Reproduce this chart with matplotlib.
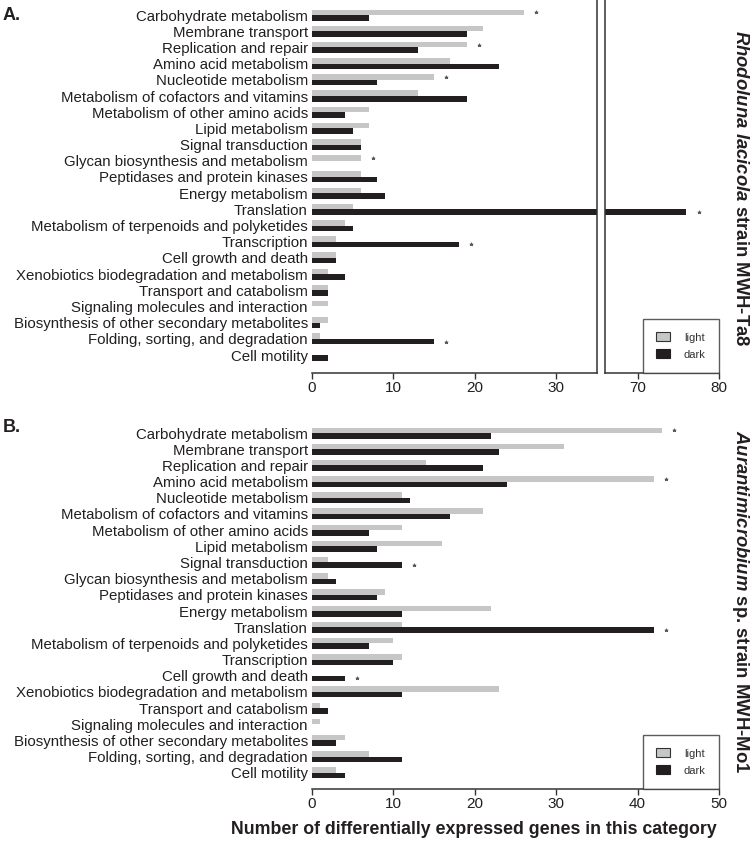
import matplotlib
matplotlib.use("Agg")
import matplotlib.pyplot as plt
from matplotlib.patches import Patch
import numpy as np

plt.rcParams['font.family'] = ['Liberation Sans', 'DejaVu Sans']
plt.rcParams['mathtext.fontset'] = 'custom'
plt.rcParams['mathtext.it'] = 'Liberation Sans:italic:bold'
plt.rcParams['mathtext.rm'] = 'Liberation Sans:bold'
plt.rcParams['mathtext.bf'] = 'Liberation Sans:bold'

categories = [
    "Carbohydrate metabolism", "Membrane transport", "Replication and repair",
    "Amino acid metabolism", "Nucleotide metabolism",
    "Metabolism of cofactors and vitamins", "Metabolism of other amino acids",
    "Lipid metabolism", "Signal transduction", "Glycan biosynthesis and metabolism",
    "Peptidases and protein kinases", "Energy metabolism", "Translation",
    "Metabolism of terpenoids and polyketides", "Transcription",
    "Cell growth and death", "Xenobiotics biodegradation and metabolism",
    "Transport and catabolism", "Signaling molecules and interaction",
    "Biosynthesis of other secondary metabolites",
    "Folding, sorting, and degradation", "Cell motility",
]

a_light = [26, 21, 19, 17, 15, 13, 7, 7, 6, 6, 6, 6, 5, 4, 3, 3, 2, 2, 2, 2, 1, 0]
a_dark = [7, 19, 13, 23, 8, 19, 4, 5, 6, 0, 8, 9, 76, 5, 18, 3, 4, 2, 0, 1, 15, 2]
a_star_light = [0, 2, 4, 9]
a_star_dark = [12, 14, 20]

b_light = [43, 31, 14, 42, 11, 21, 11, 16, 2, 2, 9, 22, 11, 10, 11, 0, 23, 1, 1, 4, 7, 3]
b_dark = [22, 23, 21, 24, 12, 17, 7, 8, 11, 3, 8, 11, 42, 7, 10, 4, 11, 2, 0, 3, 11, 4]
b_star_light = [0, 3]
b_star_dark = [8, 12, 15]

a_ticks_left = [0, 10, 20, 30]
a_ticks_right = [70, 80]
b_ticks = [0, 10, 20, 30, 40, 50]

title_a = r"$\mathit{Rhodoluna\ lacicola}$ strain MWH-Ta8"
title_b = r"$\mathit{Aurantimicrobium}$ sp. strain MWH-Mo1"
xlabel = "Number of differentially expressed genes in this category"

LIGHT = "#c6c6c6"
DARK = "#231f20"
AXC = "#333333"
TXT = "#231f20"

W, H = 750, 842
fig = plt.figure(figsize=(W / 100, H / 100), dpi=100)


def px_axes(x0, x1, ytop, ybot):
    return fig.add_axes([x0 / W, 1 - ybot / H, (x1 - x0) / W, (ybot - ytop) / H])


y = np.arange(len(categories))
bh = 0.34


def draw_bars(ax, light, dark, sl, sd):
    ax.barh(y - 0.17, light, height=bh, color=LIGHT, linewidth=0)
    ax.barh(y + 0.17, dark, height=bh, color=DARK, linewidth=0)
    sx = [light[i] + 1.5 for i in sl] + [dark[i] + 1.5 for i in sd]
    sy = [i - 0.17 for i in sl] + [i + 0.17 for i in sd]
    ax.scatter(sx, sy, marker=(5, 2, 0), s=5, color="#555555", linewidths=0.5,
               clip_on=True)


def style(ax, left=False, right=False, ylabels=True):
    for s in ["top", "left", "right", "bottom"]:
        ax.spines[s].set_visible(False)
    ax.spines["bottom"].set_visible(True)
    if right:
        ax.spines["right"].set_visible(True)
    if left:
        ax.spines["left"].set_visible(True)
    for s in ax.spines.values():
        s.set_color(AXC)
        s.set_linewidth(1.1)
    ax.tick_params(axis="x", direction="out", length=4, width=1.0, color=AXC,
                   labelsize=11, labelcolor=TXT, pad=2)
    ax.tick_params(axis="y", length=0, pad=3, labelsize=10.85, labelcolor=TXT)
    ax.set_yticks(y)
    if ylabels:
        ax.set_yticklabels(categories)
    else:
        ax.set_yticklabels([])


def add_legend(ax):
    handles = [Patch(facecolor=LIGHT, edgecolor="#333333", linewidth=0.8, label="light"),
               Patch(facecolor=DARK, edgecolor=DARK, linewidth=0.8, label="dark")]
    leg = ax.legend(handles=handles, loc="lower right", bbox_to_anchor=(1, 0),
                    borderaxespad=0, frameon=True, fancybox=False, fontsize=8,
                    handlelength=1.3, handleheight=0.9, handletextpad=1.2,
                    labelspacing=0.6, borderpad=1.2)
    fr = leg.get_frame()
    fr.set_edgecolor(AXC)
    fr.set_linewidth(1.0)
    for t in leg.get_texts():
        t.set_color("#333333")


# Panel A (broken axis)
ylim_a = (22.11, -0.93)
axL = px_axes(312, 597, 0, 373)
axR = px_axes(605, 719, 0, 373)
for ax, lo, hi in [(axL, 0, 35), (axR, 66, 80)]:
    draw_bars(ax, a_light, a_dark, a_star_light, a_star_dark)
    ax.set_xlim(lo, hi)
    ax.set_ylim(*ylim_a)
style(axL, right=True)
style(axR, left=True, ylabels=False)
axL.set_xticks(a_ticks_left)
axR.set_xticks(a_ticks_right)
add_legend(axR)

# Panel B
axB = px_axes(312, 719, 418, 789)
draw_bars(axB, b_light, b_dark, b_star_light, b_star_dark)
axB.set_xlim(0, 50)
axB.set_ylim(22.0, -0.93)
style(axB)
axB.set_xticks(b_ticks)
add_legend(axB)

# Labels
fig.text(3 / W, 1 - 16 / H, "A.", fontsize=13, fontweight="bold", color=TXT,
         ha="left", va="center")
fig.text(3 / W, 1 - 427 / H, "B.", fontsize=13, fontweight="bold", color=TXT,
         ha="left", va="center")
fig.text(740 / W, 1 - 188 / H, title_a, rotation=-90, fontsize=13.3,
         fontweight="bold", color=TXT, ha="center", va="center")
fig.text(740 / W, 1 - 602 / H, title_b, rotation=-90, fontsize=13.3,
         fontweight="bold", color=TXT, ha="center", va="center")
fig.text(474 / W, 1 - 830 / H, xlabel, fontsize=12.8, fontweight="bold",
         color=TXT, ha="center", va="center")

fig.savefig("out.png", dpi=100)
